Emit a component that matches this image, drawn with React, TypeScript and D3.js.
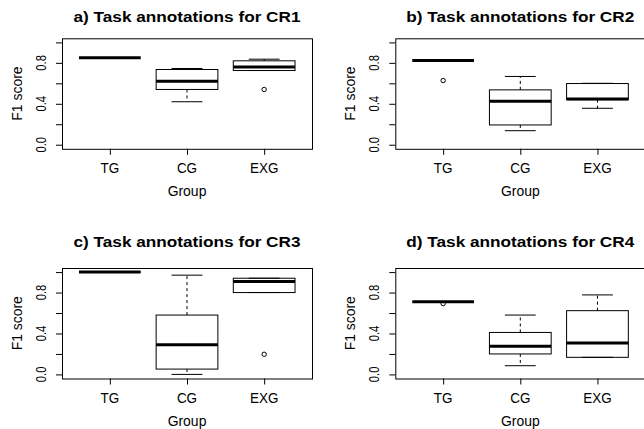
import React, { useEffect, useRef } from 'react';
import * as d3 from 'd3';

// Box plot stats: [lower whisker, Q1, median, Q3, upper whisker]
const groups = ['TG', 'CG', 'EXG'];
const panelTitles = [
  'a) Task annotations for CR1',
  'b) Task annotations for CR2',
  'c) Task annotations for CR3',
  'd) Task annotations for CR4'
];

const cr1Stats = [
  [0.85, 0.85, 0.85, 0.85, 0.85],
  [0.42, 0.54, 0.62, 0.735, 0.745],
  [0.725, 0.725, 0.76, 0.82, 0.836]
];
const cr1Outliers = [[], [], [0.54]];

const cr2Stats = [
  [0.824, 0.824, 0.824, 0.824, 0.824],
  [0.137, 0.193, 0.425, 0.536, 0.667],
  [0.356, 0.44, 0.446, 0.598, 0.6]
];
const cr2Outliers = [[0.627], [], []];

const cr3Stats = [
  [1.0, 1.0, 1.0, 1.0, 1.0],
  [0.0, 0.052, 0.289, 0.58, 0.97],
  [0.8, 0.8, 0.908, 0.94, 0.94]
];
const cr3Outliers = [[], [], [0.197]];

const cr4Stats = [
  [0.711, 0.711, 0.711, 0.711, 0.711],
  [0.085, 0.2, 0.275, 0.41, 0.58],
  [0.167, 0.167, 0.308, 0.623, 0.777]
];
const cr4Outliers = [[0.692], [], []];

const yTicks = [0, 0.2, 0.4, 0.6, 0.8, 1.0];
const yTickLabels = ['0.0', '', '0.4', '', '0.8', ''];

const WIDTH = 644;
const HEIGHT = 429;
const PANEL_W = 250;
const PANEL_H = 110.5;
const FONT = 'Liberation Sans, Arial, Helvetica, sans-serif';

const panels = [
  { stats: cr1Stats, outliers: cr1Outliers, left: 62, top: 38.3, titleY: 21.5 },
  { stats: cr2Stats, outliers: cr2Outliers, left: 395.3, top: 38.3, titleY: 21.5 },
  { stats: cr3Stats, outliers: cr3Outliers, left: 62, top: 268, titleY: 247.3 },
  { stats: cr4Stats, outliers: cr4Outliers, left: 395.3, top: 268, titleY: 247.3 }
];

const App: React.FC = () => {
  const svgRef = useRef<SVGSVGElement>(null);

  useEffect(() => {
    if (!svgRef.current) return;
    const svg = d3.select(svgRef.current);
    svg.selectAll('*').remove();

    // the source font is narrower than Arial, so squeeze text along its run
    const addText = (
      g: d3.Selection<SVGGElement, unknown, null, undefined>,
      x: number,
      y: number,
      txt: string,
      size: number,
      squeeze: number,
      opts: { bold?: boolean; rotate?: boolean } = {}
    ) => {
      g.append('text')
        .attr('transform', `translate(${x},${y})${opts.rotate ? ' rotate(-90)' : ''} scale(${squeeze},1)`)
        .attr('text-anchor', 'middle')
        .attr('font-family', FONT)
        .attr('font-size', size)
        .attr('font-weight', opts.bold ? 'bold' : 'normal')
        .attr('fill', '#000')
        .text(txt);
    };

    panels.forEach((p, i) => {
      const g = svg.append('g');
      const x = d3.scaleLinear().domain([0.38, 3.62]).range([p.left, p.left + PANEL_W]);
      const y = d3.scaleLinear().domain([-0.04, 1.04]).range([p.top + PANEL_H, p.top]);
      const bottom = p.top + PANEL_H;
      const boxW = x(1.4) - x(0.6);
      const capW = boxW / 2;

      // axes (lines only, labels drawn by hand)
      const xAxis = g.append('g')
        .attr('transform', `translate(0,${bottom})`)
        .call(d3.axisBottom(x).tickValues([1, 2, 3]).tickSize(6).tickSizeOuter(0).tickFormat(() => ''));
      xAxis.select('.domain').remove();
      const yAxis = g.append('g')
        .attr('transform', `translate(${p.left},0)`)
        .call(d3.axisLeft(y).tickValues(yTicks).tickSize(6).tickSizeOuter(0).tickFormat(() => ''));
      yAxis.select('.domain').remove();
      g.selectAll('.tick line').attr('stroke', '#000');

      // frame
      g.append('rect')
        .attr('x', p.left + 0.5)
        .attr('y', p.top + 0.5)
        .attr('width', PANEL_W)
        .attr('height', PANEL_H)
        .attr('fill', 'none')
        .attr('stroke', '#000')
        .attr('stroke-width', 1);

      // boxes
      p.stats.forEach((s, gi) => {
        const cx = x(gi + 1);
        const [lo, q1, med, q3, hi] = s;
        // whiskers
        g.append('line')
          .attr('x1', cx).attr('x2', cx)
          .attr('y1', y(q3)).attr('y2', y(hi))
          .attr('stroke', '#000').attr('stroke-dasharray', '3,3');
        g.append('line')
          .attr('x1', cx).attr('x2', cx)
          .attr('y1', y(q1)).attr('y2', y(lo))
          .attr('stroke', '#000').attr('stroke-dasharray', '3,3');
        // caps
        [lo, hi].forEach(v => {
          g.append('line')
            .attr('x1', cx - capW / 2).attr('x2', cx + capW / 2)
            .attr('y1', y(v)).attr('y2', y(v))
            .attr('stroke', '#000');
        });
        g.append('rect')
          .attr('x', cx - boxW / 2)
          .attr('y', y(q3))
          .attr('width', boxW)
          .attr('height', y(q1) - y(q3))
          .attr('fill', 'none')
          .attr('stroke', '#000');
        g.append('line')
          .attr('x1', cx - boxW / 2).attr('x2', cx + boxW / 2)
          .attr('y1', y(med)).attr('y2', y(med))
          .attr('stroke', '#000').attr('stroke-width', 3);
        p.outliers[gi].forEach(v => {
          g.append('circle')
            .attr('cx', cx).attr('cy', y(v)).attr('r', 2.2)
            .attr('fill', 'none').attr('stroke', '#000');
        });
      });

      // texts
      addText(g, p.left + PANEL_W / 2, p.titleY, panelTitles[i], 15.5, 1.11, { bold: true });
      groups.forEach((name, gi) => addText(g, x(gi + 1), bottom + 24, name, 15.5, 0.87));
      addText(g, p.left + PANEL_W / 2, bottom + 47, 'Group', 15.5, 0.9);
      yTicks.forEach((t, ti) => {
        if (yTickLabels[ti]) addText(g, p.left - 16, y(t), yTickLabels[ti], 15, 0.75, { rotate: true });
      });
      addText(g, p.left - 40.5, p.top + PANEL_H / 2, 'F1 score', 15.5, 0.9, { rotate: true });
    });
  }, []);

  return (
    <svg
      ref={svgRef}
      width={WIDTH}
      height={HEIGHT}
      style={{ position: 'absolute', left: 0, top: 0, background: '#fff', display: 'block' }}
    />
  );
};

export default App;
